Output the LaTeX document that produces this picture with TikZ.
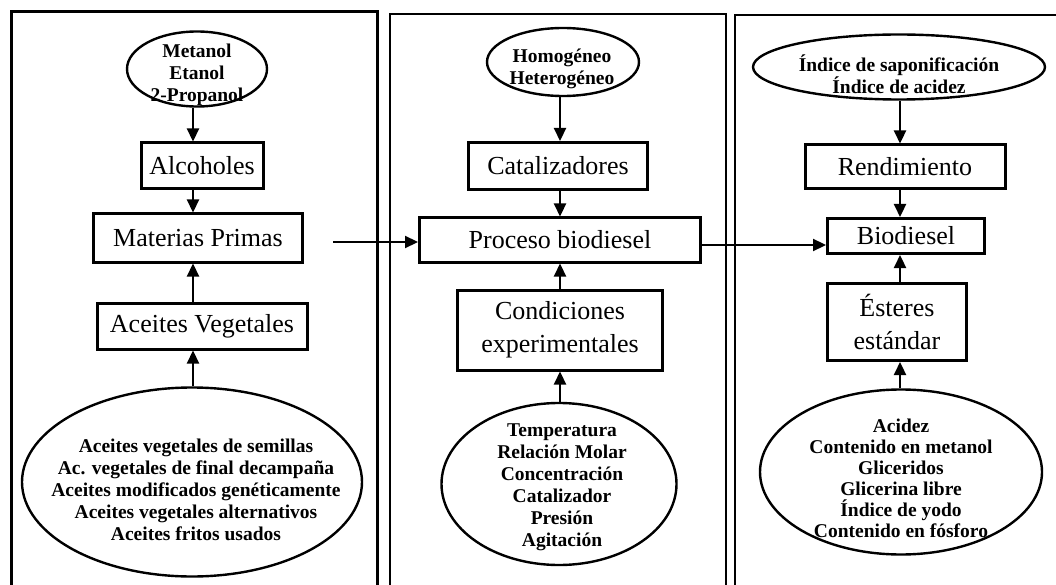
\documentclass[tikz,border=0pt]{standalone}
\usepackage{fontspec}
\setmainfont{Liberation Serif}
\usetikzlibrary{shapes.geometric,arrows.meta}
\tikzset{
  box/.style={draw, line width=3pt, inner sep=0pt, align=center,
    font=\fontsize{26}{33}\selectfont},
  oval/.style={draw, ellipse, line width=2.4pt, inner sep=0pt},
  ovaltext/.style={align=center, inner sep=0pt,
    font=\bfseries\fontsize{19.5}{22}\selectfont},
  arr/.style={line width=2.2pt, -{Triangle[length=13pt,width=12pt]}},
  thickpanel/.style={line width=3pt},
  thinpanel/.style={line width=1.4pt},
}
\begin{document}
\begin{tikzpicture}[x=1pt,y=-1pt]
\useasboundingbox (0,0) rectangle (1056,585);
% panels
\draw[thickpanel] (11,590) -- (11,12) -- (377,12) -- (377,590);
\draw[thinpanel] (390,590) -- (390,14) -- (726,14) -- (726,590);
\draw[thinpanel] (735,590) -- (735,15) -- (1060,15);
% left column
\node[oval, minimum width=140pt, minimum height=75pt] (m1) at (197,69) {};
\node[ovaltext] (m1t) at (197,75) {Metanol\\Etanol\\2-Propanol};
\node[box, minimum width=122pt, minimum height=46pt] (alc) at (202,166) {Alcoholes};
\node[box, minimum width=209pt, minimum height=48pt] (mp) at (198,238) {Materias Primas};
\node[box, minimum width=210pt, minimum height=46pt] (av) at (202,326) {Aceites Vegetales};
\node[oval, minimum width=340pt, minimum height=189pt] (e1) at (192,482) {};
\node[ovaltext] (e1t) at (196,490)
  {Aceites vegetales de semillas\\Ac. vegetales de final decampaña\\Aceites modificados genéticamente\\Aceites vegetales alternativos\\Aceites fritos usados};
% middle column
\node[oval, minimum width=152pt, minimum height=68pt] (h1) at (563,62) {};
\node[ovaltext] (h1t) at (562,69) {Homogéneo\\Heterogéneo};
\node[box, minimum width=179pt, minimum height=47pt] (cat) at (558,166) {Catalizadores};
\node[box, minimum width=281pt, minimum height=44pt] (pb) at (560,240) {Proceso biodiesel};
\node[box, minimum width=205pt, minimum height=80pt] (ce) at (560,330) {Condiciones\\experimentales};
\node[oval, minimum width=235pt, minimum height=162pt] (e2) at (559,484) {};
\node[ovaltext] (e2t) at (562,487)
  {Temperatura\\Relación Molar\\Concentración\\Catalizador\\Presión\\Agitación};
% right column
\node[oval, minimum width=292pt, minimum height=65pt] (r1) at (899,67) {};
\node[ovaltext] (r1t) at (899,74) {Índice de saponificación\\Índice de acidez};
\node[box, minimum width=200pt, minimum height=44pt] (ren) at (905,167) {Rendimiento};
\node[box, minimum width=157pt, minimum height=35pt] (bio) at (906,236) {Biodiesel};
\node[box, minimum width=139pt, minimum height=77pt] (est) at (897,322) {Ésteres\\estándar};
\node[oval, minimum width=282pt, minimum height=165pt] (e3) at (901,472) {};
\node[ovaltext, font=\bfseries\fontsize{19.5}{21}\selectfont] (e3t) at (901,478)
  {Acidez\\Contenido en metanol\\Gliceridos\\Glicerina libre\\Índice de yodo\\Contenido en fósforo};
% column axes
\coordinate (lx) at (193,0);
\coordinate (mx) at (560,0);
\coordinate (rx) at (900,0);
\coordinate (start) at (333,242);
% arrows left
\draw[arr] (lx |- m1.south) -- (lx |- alc.north);
\draw[arr] (lx |- alc.south) -- (lx |- mp.north);
\draw[arr] (lx |- av.north) -- (lx |- mp.south);
\draw[arr] (lx |- e1.north) -- (lx |- av.south);
% arrows middle
\draw[arr] (mx |- h1.south) -- (mx |- cat.north);
\draw[arr] (mx |- cat.south) -- (mx |- pb.north);
\draw[arr] (mx |- ce.north) -- (mx |- pb.south);
\draw[arr] (mx |- e2.north) -- (mx |- ce.south);
% arrows right
\draw[arr] (rx |- r1.south) -- (rx |- ren.north);
\draw[arr] (rx |- ren.south) -- (rx |- bio.north);
\draw[arr] (rx |- est.north) -- (rx |- bio.south);
\draw[arr] (rx |- e3.north) -- (rx |- est.south);
% horizontal arrows
\draw[arr] (start) -- (start -| pb.west);
\draw[arr] (pb.east |- 0,245) -- (bio.west |- 0,245);
\end{tikzpicture}
\end{document}
